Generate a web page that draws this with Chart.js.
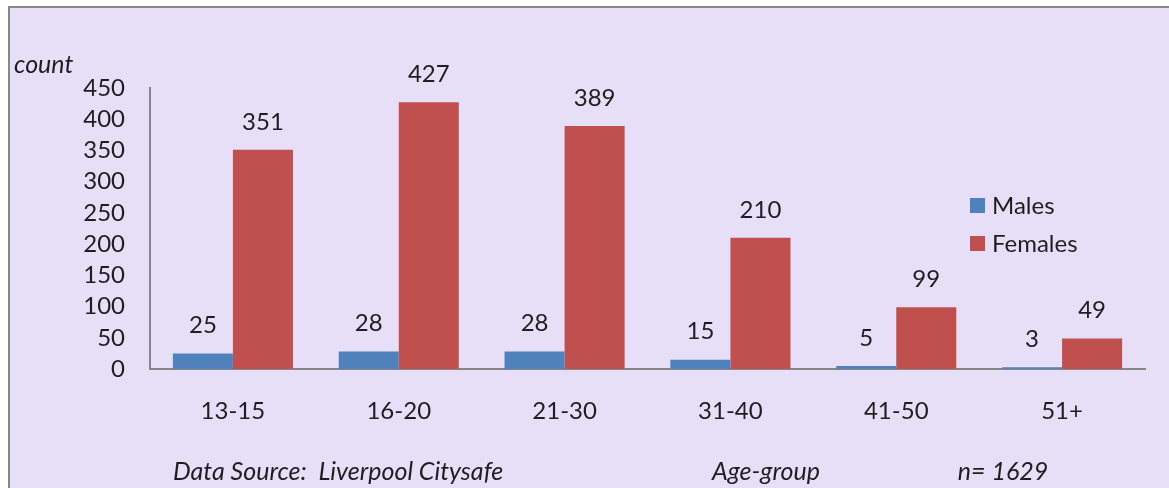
<!DOCTYPE html>
<html>
<head>
<meta charset="utf-8">
<script src="https://cdn.jsdelivr.net/npm/chart.js@4/dist/chart.umd.min.js"></script>
<style>
  html, body { margin: 0; padding: 0; background: #ffffff; }
  #wrap { width: 1169px; height: 488px; position: relative; }
  canvas { display: block; }
</style>
</head>
<body>
<div id="wrap"><canvas id="c" width="1169" height="488"></canvas></div>
<script>
const categories = ['13-15', '16-20', '21-30', '31-40', '41-50', '51+'];
const males = [25, 28, 28, 15, 5, 3];
const females = [351, 427, 389, 210, 99, 49];
const yTicks = [0, 50, 100, 150, 200, 250, 300, 350, 400, 450];
const seriesNames = ['Males', 'Females'];
const seriesColors = ['#4F81BD', '#C0504D'];

const FONT = 'Lato, "Open Sans", sans-serif';
const TEXT = '#1e1e1e';
const FS = 24;

const bgPlugin = {
  id: 'bg',
  beforeDraw(chart) {
    const ctx = chart.ctx;
    ctx.save();
    ctx.fillStyle = '#ffffff';
    ctx.fillRect(0, 0, chart.width, chart.height);
    ctx.fillStyle = '#E7DEF7';
    ctx.fillRect(8, 6, chart.width - 8, chart.height - 6);
    ctx.fillStyle = '#888888';
    ctx.fillRect(8, 6, chart.width - 8, 2);
    ctx.fillRect(8, 6, 2, chart.height - 6);
    ctx.restore();
  }
};

const labelPlugin = {
  id: 'labels',
  afterDatasetsDraw(chart) {
    const ctx = chart.ctx;
    ctx.save();
    ctx.font = FS + 'px ' + FONT;
    ctx.fillStyle = TEXT;
    ctx.textAlign = 'center';
    ctx.textBaseline = 'middle';
    chart.data.datasets.forEach((ds, i) => {
      const meta = chart.getDatasetMeta(i);
      meta.data.forEach((bar, j) => {
        ctx.fillText(String(ds.data[j]), bar.x, bar.y - 28);
      });
    });
    // legend
    const legendY = [206, 244];
    chart.data.datasets.forEach((ds, i) => {
      ctx.fillStyle = ds.backgroundColor;
      ctx.fillRect(970, legendY[i] - 8, 15, 15);
      ctx.fillStyle = TEXT;
      ctx.textAlign = 'left';
      ctx.fillText(ds.label, 992, legendY[i]);
    });
    // annotations
    ctx.font = 'italic 25px ' + FONT;
    ctx.textAlign = 'left';
    ctx.fillText('count', 14, 65);
    ctx.fillText('Data Source:  Liverpool Citysafe', 173, 472);
    ctx.textAlign = 'center';
    ctx.fillText('Age-group', 766, 472);
    ctx.fillText('n= 1629', 1003, 472);
    ctx.restore();
  }
};

new Chart(document.getElementById('c'), {
  type: 'bar',
  data: {
    labels: categories,
    datasets: [
      { label: seriesNames[0], data: males, backgroundColor: seriesColors[0] },
      { label: seriesNames[1], data: females, backgroundColor: seriesColors[1] }
    ]
  },
  options: {
    responsive: false,
    animation: false,
    devicePixelRatio: 1,
    layout: { padding: { top: 88, right: 24, left: 0, bottom: 0 } },
    datasets: { bar: { categoryPercentage: 0.724, barPercentage: 1.0 } },
    plugins: { legend: { display: false }, tooltip: { enabled: false } },
    scales: {
      x: {
        grid: { display: false, drawTicks: false },
        border: { display: true, color: '#878787', width: 2 },
        ticks: { font: { family: FONT, size: FS }, color: TEXT, padding: 28, autoSkip: false, maxRotation: 0 },
        afterFit(scale) { scale.height = 119; }
      },
      y: {
        min: 0, max: 450,
        afterBuildTicks(scale) { scale.ticks = yTicks.map(v => ({ value: v })); },
        grid: { display: false, drawTicks: false },
        border: { display: true, color: '#878787', width: 2 },
        ticks: { font: { family: FONT, size: FS, lineHeight: 1.0 }, color: TEXT, padding: 25, autoSkip: false },
        afterFit(scale) { scale.width = 150; }
      }
    }
  },
  plugins: [bgPlugin, labelPlugin]
});
</script>
</body>
</html>
